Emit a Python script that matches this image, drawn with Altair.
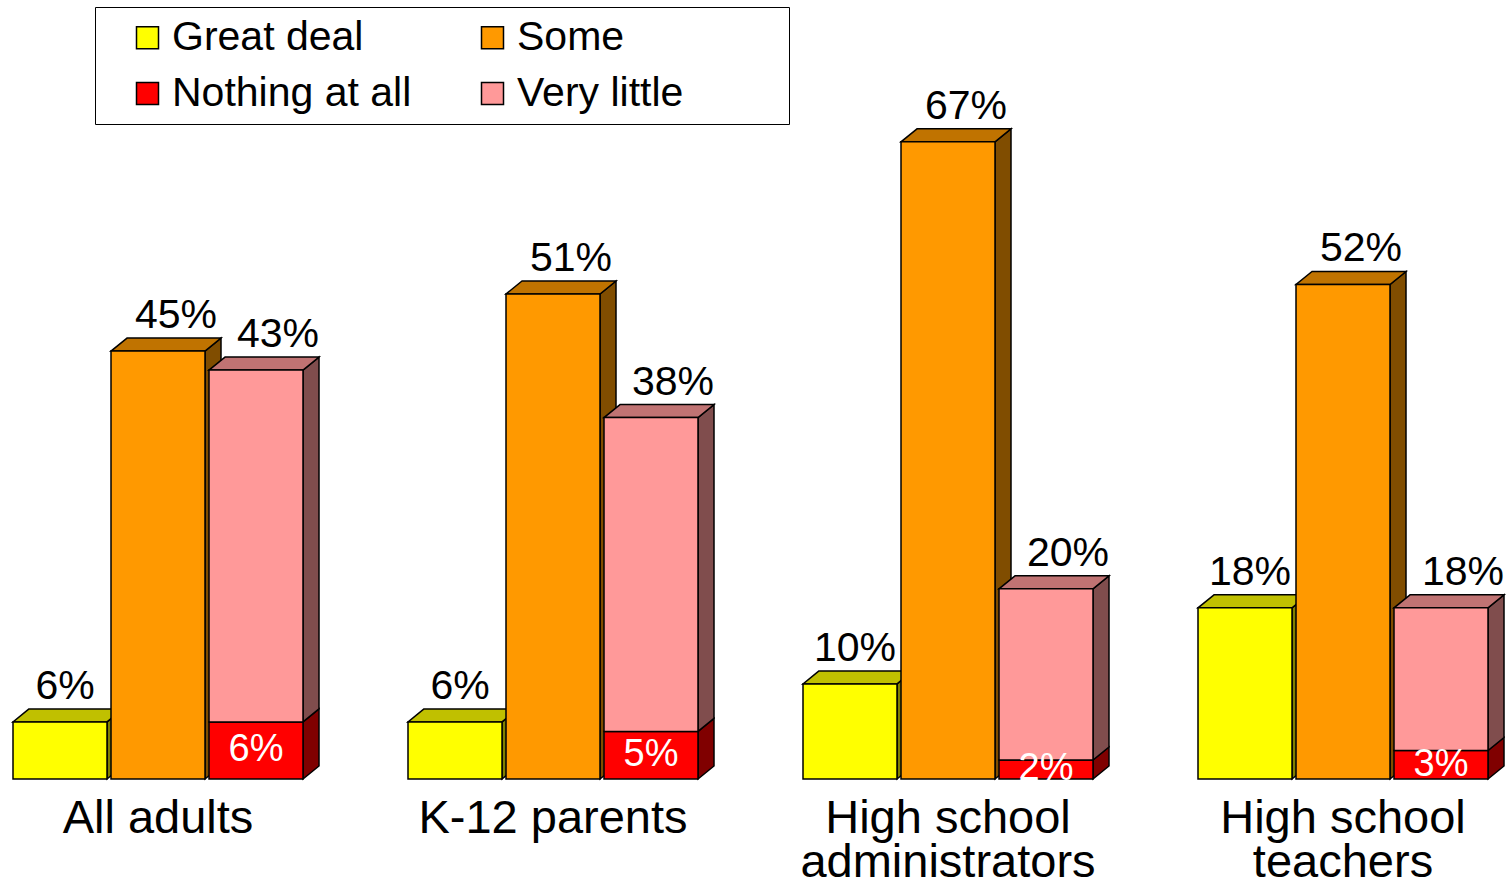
import altair as alt
import pandas as pd

# ---- data ----
groups = ["All adults", "K-12 parents", "High school\nadministrators", "High school\nteachers"]
great_deal = [6, 6, 10, 18]
some = [45, 51, 67, 52]
very_little = [43, 38, 20, 18]
nothing_at_all = [6, 5, 2, 3]

series = ["Great deal", "Some", "Nothing at all", "Very little"]
front_colors = ["#FFFF00", "#FF9900", "#FF0000", "#FF9999"]
top_colors = {"Great deal": "#C0C000", "Some": "#C07300", "Very little": "#C07373"}
side_colors = {"Great deal": "#808000", "Some": "#804D00",
               "Nothing at all": "#800000", "Very little": "#804D4D"}
label_dx = {"Great deal": 5, "Some": 18, "Very little": 22}

# ---- layout constants (group units on x, percent on y) ----
W, H = 1510, 880
GROUP_PX = 395.0
SLOT = 98 / GROUP_PX
BAR_W = 94 / GROUP_PX
PX_PER_PCT = 9.51
BASE_PX = 779
X0 = -13 / GROUP_PX
X1 = (W - 13) / GROUP_PX
Y1 = BASE_PX / PX_PER_PCT
Y0 = -(H - BASE_PX) / PX_PER_PCT
DX = 16 / GROUP_PX
DY = 13 / PX_PER_PCT
FONT = "Liberation Sans"

fronts, sides, tops, labels, inner = [], [], [], [], []
for g in range(len(groups)):
    pieces = [
        ("Great deal", 0, 0, great_deal[g], True),
        ("Some", 1, 0, some[g], True),
        ("Nothing at all", 2, 0, nothing_at_all[g], False),
        ("Very little", 2, nothing_at_all[g], very_little[g], True),
    ]
    for name, slot, y0, y1, has_top in pieces:
        xa = g + slot * SLOT
        xb = xa + BAR_W
        fid = f"{g}-{name}"
        fronts.append({"series": name, "x": xa, "x2": xb, "y": y0, "y2": y1})
        sides.append({"id": fid, "fill": side_colors[name], "x": xb, "yt": y1, "yb": y0})
        sides.append({"id": fid, "fill": side_colors[name], "x": xb + DX, "yt": y1 + DY, "yb": y0 + DY})
        if has_top:
            tops.append({"id": fid, "fill": top_colors[name], "y": y1, "xl": xa, "xr": xb})
            tops.append({"id": fid, "fill": top_colors[name], "y": y1 + DY, "xl": xa + DX, "xr": xb + DX})
            labels.append({"series": name, "x": (xa + xb) / 2, "y": y1, "text": f"{y1}%"})
        else:
            inner.append({"x": (xa + xb) / 2, "y": (y0 + y1) / 2, "text": f"{y1}%"})

cats = pd.DataFrame({"x": [g + (2 * SLOT + BAR_W) / 2 for g in range(len(groups))],
                     "y": [0] * len(groups), "text": groups})

xs = alt.Scale(domain=[X0, X1], nice=False, zero=False)
ys = alt.Scale(domain=[Y0, Y1], nice=False, zero=False)

side_layer = alt.Chart(pd.DataFrame(sides)).mark_area(
    orient="vertical", stroke="black", strokeWidth=1.5
).encode(
    x=alt.X("x:Q", scale=xs, axis=None),
    y=alt.Y("yt:Q", scale=ys, axis=None, stack=None),
    y2="yb:Q",
    detail="id:N",
    fill=alt.Fill("fill:N", scale=None),
)

top_layer = alt.Chart(pd.DataFrame(tops)).mark_area(
    orient="horizontal", stroke="black", strokeWidth=1.5
).encode(
    y=alt.Y("y:Q", scale=ys, axis=None),
    x=alt.X("xl:Q", scale=xs, axis=None, stack=None),
    x2="xr:Q",
    detail="id:N",
    fill=alt.Fill("fill:N", scale=None),
)

front_layer = alt.Chart(pd.DataFrame(fronts)).mark_rect(
    stroke="black", strokeWidth=1.5
).encode(
    x=alt.X("x:Q", scale=xs, axis=None),
    x2="x2:Q",
    y=alt.Y("y:Q", scale=ys, axis=None),
    y2="y2:Q",
    color=alt.Color(
        "series:N",
        scale=alt.Scale(domain=series, range=front_colors),
        legend=alt.Legend(
            title=" ", titleOrient="right", titlePadding=96, titleFontSize=10,
            orient="none", legendX=95, legendY=7, columns=2,
            direction="horizontal",
            symbolType="square", symbolSize=484, symbolStrokeColor="black",
            symbolStrokeWidth=1.5, symbolOffset=22,
            labelFont=FONT, labelFontSize=41, labelColor="black", labelOffset=4,
            labelLimit=400, columnPadding=38, rowPadding=14, padding=10,
            strokeColor="black", fillColor="white", gridAlign="all",
        ),
    ),
)

label_base = alt.Chart(pd.DataFrame(labels))
label_layers = [
    label_base.transform_filter(alt.datum.series == name).mark_text(
        font=FONT, fontSize=41, color="black", baseline="alphabetic", dy=-23, dx=ldx
    ).encode(
        x=alt.X("x:Q", scale=xs, axis=None),
        y=alt.Y("y:Q", scale=ys, axis=None),
        text="text:N",
    )
    for name, ldx in label_dx.items()
]

inner_layer = alt.Chart(pd.DataFrame(inner)).mark_text(
    font=FONT, fontSize=38, color="white", baseline="middle"
).encode(
    x=alt.X("x:Q", scale=xs, axis=None),
    y=alt.Y("y:Q", scale=ys, axis=None),
    text="text:N",
)

cat_layer = alt.Chart(cats).mark_text(
    font=FONT, fontSize=47, color="black", baseline="alphabetic", dy=54,
    lineBreak="\n", lineHeight=44
).encode(
    x=alt.X("x:Q", scale=xs, axis=None),
    y=alt.Y("y:Q", scale=ys, axis=None),
    text="text:N",
)

chart = alt.layer(
    side_layer, top_layer, front_layer, *label_layers, inner_layer, cat_layer
).properties(
    width=W, height=H, autosize=alt.AutoSizeParams(type="none"), padding=0,
    background="white",
).configure_view(strokeWidth=0)

chart.save("out.html", embed_options={"renderer": "svg", "actions": False})
